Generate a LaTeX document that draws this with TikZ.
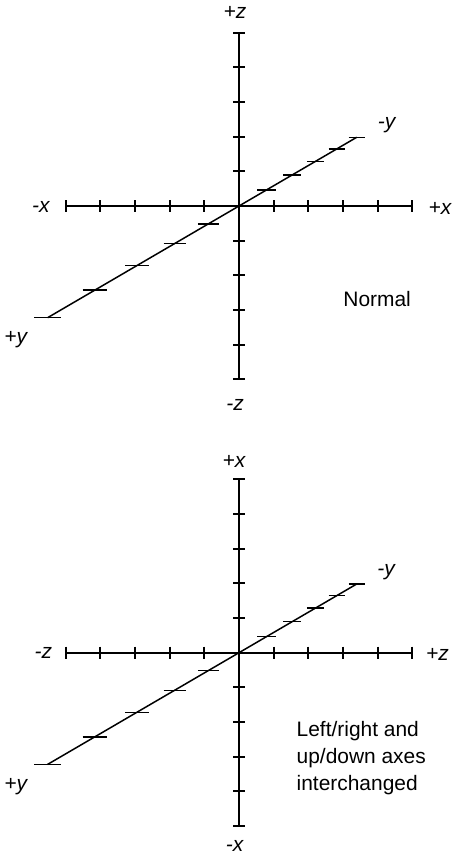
\documentclass[tikz,border=0pt]{standalone}
\usepackage{fontspec}
\setmainfont{Liberation Sans}
\definecolor{cink}{HTML}{000000}
\tikzset{
  every picture/.style={font=\fontsize{21}{26.7}\selectfont, line width=1.4pt},
  axis/.style={draw=cink, line width=2pt},
  depth/.style={draw=cink, line width=1.5pt},
  lbl/.style={font=\fontsize{21}{26.7}\selectfont\itshape, inner sep=0pt, anchor=base},
  note/.style={align=left, inner sep=0pt, anchor=base west},
}
% one set of axes round (0,0): two flat axes and a receding one
\newcommand{\axesframe}{%
  \draw[axis] (0,-173.3) -- (0,173.3);
  \draw[axis] (-173.3,0) -- (173.3,0);
  \foreach \k in {-5,...,5}{
    \draw[axis] (-6,34.67*\k) -- (6,34.67*\k);
    \draw[axis] (34.67*\k,-6) -- (34.67*\k,6);
  }
  \coordinate (front) at (-191.4,111.7);
  \coordinate (back) at (117.7,-68.7);
  \draw[depth] (front) -- (back);
  \foreach \k in {-5,...,5}{
    \pgfmathsetmacro{\s}{17.01*\k/(1-0.0477*\k)}
    \pgfmathsetmacro{\h}{10/(1-0.0477*\k)}
    \draw[depth] ({-1.7135*\s-\h},\s) -- ({-1.7135*\s+\h},\s);
  }
}

\begin{document}
\begin{tikzpicture}[x=1bp, y=-1bp]
  \useasboundingbox (0,0) rectangle (452,855);
  % normal
  \begin{scope}[shift={(239,206)}]
    \axesframe
  \end{scope}
  \node[lbl] (zp) at (235,18.3) {+z};
  \node[lbl] (zm) at (235,410.7) {-z};
  \node[lbl] (xm) at (40.8,212.3) {-x};
  \node[lbl] (xp) at (440,214.3) {+x};
  \node[lbl] (ym) at (386.7,128.3) {-y};
  \node[lbl] (yp) at (15.8,343.3) {+y};
  \node[note] (normal) at (342.7,306) {Normal};
  % interchanged
  \begin{scope}[shift={(239,652.7)}]
    \axesframe
  \end{scope}
  \node[lbl] (xp2) at (234,467.3) {+x};
  \node[lbl] (xm2) at (234.7,851.7) {-x};
  \node[lbl] (zm2) at (43.3,658.3) {-z};
  \node[lbl] (zp2) at (437.5,660) {+z};
  \node[lbl] (ym2) at (386,575.7) {-y};
  \node[lbl] (yp2) at (15.8,790.7) {+y};
  \node[note] (swap) at (296,790) {Left/right and\\up/down axes\\interchanged};
\end{tikzpicture}
\end{document}
